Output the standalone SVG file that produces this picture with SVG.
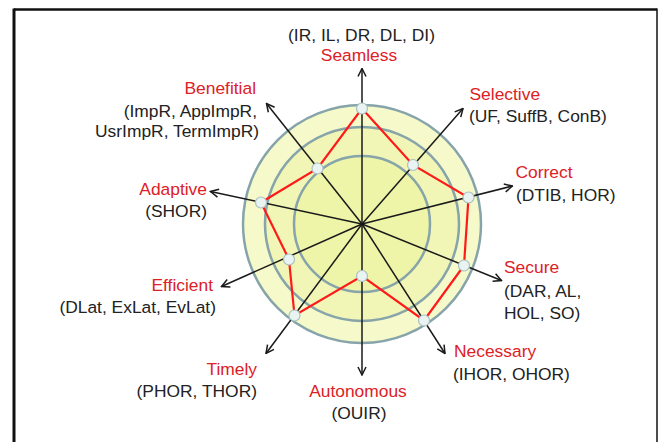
<svg xmlns="http://www.w3.org/2000/svg" width="659" height="442" viewBox="0 0 659 442">
  <style>
    text { font-family: "Liberation Sans", Arial, sans-serif; font-size: 17.4px; }
    .name { fill: #dd2126; }
    .metric { fill: #222222; }
    .ring { stroke: #86a4aa; stroke-width: 2.5; }
    .axis { stroke: #1a1a1a; stroke-width: 1.5; fill: none; marker-end: url(#arrow); }
    .profile { fill: none; stroke: #ff1a1a; stroke-width: 2.2; stroke-linejoin: miter; }
    .dot { fill: #e9f3f2; stroke: #a9bfc2; stroke-width: 1.2; }
  </style>
  <defs>
    <marker id="arrow" viewBox="0 0 10 10" refX="9" refY="5" markerWidth="10" markerHeight="10" markerUnits="userSpaceOnUse" orient="auto">
      <path d="M1,1 L9,5 L1,9" fill="none" stroke="#1a1a1a" stroke-width="1.5"/>
    </marker>
  </defs>

  <rect width="659" height="442" fill="#ffffff"/>

  <!-- frame -->
  <g id="frame" stroke="#111111" fill="none">
    <line x1="14" y1="9.5" x2="657" y2="9.5" stroke-width="2.5"/>
    <line x1="14" y1="8.5" x2="14" y2="442" stroke-width="3"/>
    <line x1="657" y1="8.5" x2="657" y2="442" stroke-width="1.5"/>
  </g>

  <!-- concentric rating rings -->
  <g id="rings">
    <circle class="ring" cx="362" cy="224" r="119" fill="#f6f9c9"/>
    <circle class="ring" cx="362" cy="224" r="97" fill="#f1f6b6"/>
    <circle class="ring" cx="362" cy="224" r="68" fill="#eef5a8"/>
  </g>

  <!-- axes -->
  <g id="connectors">
    <line class="axis" x1="362" y1="224" x2="362" y2="68.5"/>
    <line class="axis" x1="362" y1="224" x2="463" y2="108.5"/>
    <line class="axis" x1="362" y1="224" x2="512.5" y2="186"/>
    <line class="axis" x1="362" y1="224" x2="501.5" y2="280.5"/>
    <line class="axis" x1="362" y1="224" x2="445" y2="353.5"/>
    <line class="axis" x1="362" y1="224" x2="362" y2="375"/>
    <line class="axis" x1="362" y1="224" x2="266" y2="353.5"/>
    <line class="axis" x1="362" y1="224" x2="221.5" y2="286.5"/>
    <line class="axis" x1="362" y1="224" x2="210.5" y2="191.5"/>
    <line class="axis" x1="362" y1="224" x2="266.5" y2="103.5"/>
  </g>

  <!-- rating profile -->
  <g id="profile">
    <polygon class="profile" points="362,108.5 413,165 468.5,197.5 464,265.5 424,320.5 362,276 294.5,315.5 289,259.5 261,202.5 317.5,168.5"/>
    <circle class="dot" cx="362" cy="108.5" r="5.5"/>
    <circle class="dot" cx="413" cy="165" r="5.5"/>
    <circle class="dot" cx="468.5" cy="197.5" r="5.5"/>
    <circle class="dot" cx="464" cy="265.5" r="5.5"/>
    <circle class="dot" cx="424" cy="320.5" r="5.5"/>
    <circle class="dot" cx="362" cy="276" r="5.5"/>
    <circle class="dot" cx="294.5" cy="315.5" r="5.5"/>
    <circle class="dot" cx="289" cy="259.5" r="5.5"/>
    <circle class="dot" cx="261" cy="202.5" r="5.5"/>
    <circle class="dot" cx="317.5" cy="168.5" r="5.5"/>
  </g>

  <!-- property labels -->
  <g id="seamless" text-anchor="middle">
    <text class="metric" x="361.5" y="40.5">(IR, IL, DR, DL, DI)</text>
    <text class="name" x="359" y="60.5">Seamless</text>
  </g>
  <g id="selective">
    <text class="name" x="469.5" y="99.5">Selective</text>
    <text class="metric" x="469" y="122">(UF, SuffB, ConB)</text>
  </g>
  <g id="correct">
    <text class="name" x="515.5" y="178">Correct</text>
    <text class="metric" x="516" y="200.5">(DTIB, HOR)</text>
  </g>
  <g id="secure">
    <text class="name" x="504" y="273">Secure</text>
    <text class="metric" x="504" y="297">(DAR, AL,</text>
    <text class="metric" x="504" y="319">HOL, SO)</text>
  </g>
  <g id="necessary">
    <text class="name" x="454" y="357">Necessary</text>
    <text class="metric" x="453" y="380">(IHOR, OHOR)</text>
  </g>
  <g id="autonomous" text-anchor="middle">
    <text class="name" x="358" y="397">Autonomous</text>
    <text class="metric" x="359" y="419">(OUIR)</text>
  </g>
  <g id="timely" text-anchor="end">
    <text class="name" x="257" y="375">Timely</text>
    <text class="metric" x="257" y="397">(PHOR, THOR)</text>
  </g>
  <g id="efficient" text-anchor="end">
    <text class="name" x="213" y="290.5">Efficient</text>
    <text class="metric" x="216" y="312.5">(DLat, ExLat, EvLat)</text>
  </g>
  <g id="adaptive" text-anchor="end">
    <text class="name" x="207" y="195">Adaptive</text>
    <text class="metric" x="207" y="216.5">(SHOR)</text>
  </g>
  <g id="benefitial" text-anchor="end">
    <text class="name" x="256" y="94">Benefitial</text>
    <text class="metric" x="257" y="116.5">(ImpR, AppImpR,</text>
    <text class="metric" x="259" y="137">UsrImpR, TermImpR)</text>
  </g>
</svg>
